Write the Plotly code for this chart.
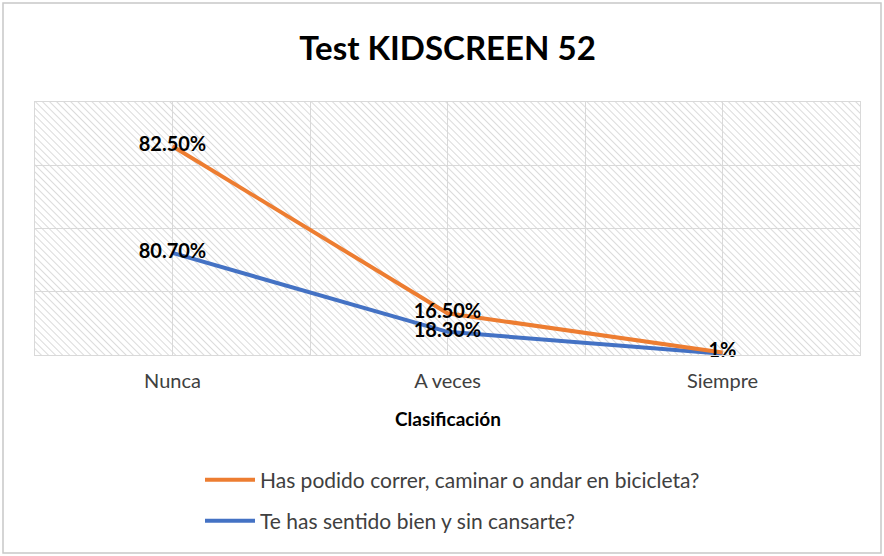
import base64
import plotly.graph_objects as go

categories = ["Nunca", "A veces", "Siempre"]
series_names = ["Has podido correr, caminar o andar en bicicleta?",
                "Te has sentido bien y sin cansarte?"]
orange_values = [82.5, 16.5, 1]
blue_values = [80.7, 18.3, 1]
orange_labels = ["82.50%", "16.50%", "1%"]
blue_labels = ["80.70%", "18.30%", ""]

ORANGE = "#ED7D31"
BLUE = "#4472C4"
FONT = "Lato, 'Open Sans', sans-serif"

xs = list(range(len(categories)))

# hatch pattern background for the plot area
W, H = 825, 253
svg = (f'<svg xmlns="http://www.w3.org/2000/svg" width="{W}" height="{H}" viewBox="0 0 {W} {H}" preserveAspectRatio="none">'
       '<defs><pattern id="p" width="5" height="5" patternUnits="userSpaceOnUse" patternTransform="rotate(-45)">'
       '<line x1="0" y1="0" x2="0" y2="5" stroke="#d2d2d2" stroke-width="1.6"/></pattern></defs>'
       f'<rect width="{W}" height="{H}" fill="white"/><rect width="{W}" height="{H}" fill="url(#p)"/></svg>')
svg_uri = "data:image/svg+xml;base64," + base64.b64encode(svg.encode()).decode()

fig = go.Figure()
fig.add_trace(go.Scatter(
    x=xs, y=blue_values, name=series_names[1], mode="lines+text",
    line=dict(color=BLUE, width=4), text=blue_labels, textposition="middle center",
    textfont=dict(family=FONT, size=20, color="#000000", weight="bold"),
    yaxis="y", legend="legend2", cliponaxis=False))
fig.add_trace(go.Scatter(
    x=xs, y=orange_values, name=series_names[0], mode="lines+text",
    line=dict(color=ORANGE, width=4), text=orange_labels, textposition="middle center",
    textfont=dict(family=FONT, size=20, color="#000000", weight="bold"),
    yaxis="y2", legend="legend", cliponaxis=False))

legend_common = dict(xanchor="left", yanchor="middle", itemwidth=50,
                     font=dict(family=FONT, size=21, color="#404040"),
                     bgcolor="rgba(0,0,0,0)")

fig.update_layout(
    width=884, height=556,
    margin=dict(l=35, r=24, t=102, b=201),
    paper_bgcolor="white", plot_bgcolor="rgba(0,0,0,0)",
    font=dict(family=FONT, color="#404040"),
    showlegend=True,
    title=dict(text="<b>Test KIDSCREEN 52</b>", x=0.5, xref="paper", xanchor="center",
               y=1 - 48 / 556, yref="container", yanchor="middle",
               font=dict(family=FONT, size=33, color="#000000")),
    xaxis=dict(range=[-0.5, 2.5], tickvals=xs, ticktext=categories,
               showgrid=True, gridcolor="#d9d9d9", gridwidth=1,
               minor=dict(dtick=0.5, tick0=-0.5, showgrid=True, gridcolor="#d9d9d9"),
               showline=True, linecolor="#d9d9d9", mirror=True, zeroline=False,
               ticks="", tickfont=dict(family=FONT, size=20, color="#404040"),
               ticklabelstandoff=8, fixedrange=True),
    yaxis=dict(range=[0, 200], dtick=50, showgrid=True, gridcolor="#d9d9d9",
               showticklabels=False, zeroline=False, showline=True, linecolor="#d9d9d9",
               mirror=True, ticks=""),
    yaxis2=dict(range=[0, 100], overlaying="y", side="right", showgrid=False,
                showticklabels=False, zeroline=False, showline=False, ticks=""),
    legend=dict(x=(200 - 35) / W, y=(355 - 480) / H, visible=True, **legend_common),
    legend2=dict(x=(200 - 35) / W, y=(355 - 521) / H, visible=True, **legend_common),
    images=[dict(source=svg_uri, xref="paper", yref="paper", x=0, y=1, sizex=1, sizey=1,
                 xanchor="left", yanchor="top", sizing="stretch", layer="below")],
    shapes=[dict(type="rect", xref="paper", yref="paper",
                 x0=(3 - 35) / W, x1=(881 - 35) / W, y0=(355 - 553) / H, y1=(355 - 3) / H,
                 line=dict(color="#c8c8c8", width=1.5), fillcolor="rgba(0,0,0,0)", layer="below")],
    annotations=[dict(text="<b>Clasificación</b>", x=0.5, xref="paper", y=(355 - 418) / H,
                      yref="paper", xanchor="center", yanchor="middle", showarrow=False,
                      font=dict(family=FONT, size=19, color="#000000"))],
)

fig.write_html("out.html", config={"displayModeBar": False},
               post_script="document.body.style.margin='0';")
